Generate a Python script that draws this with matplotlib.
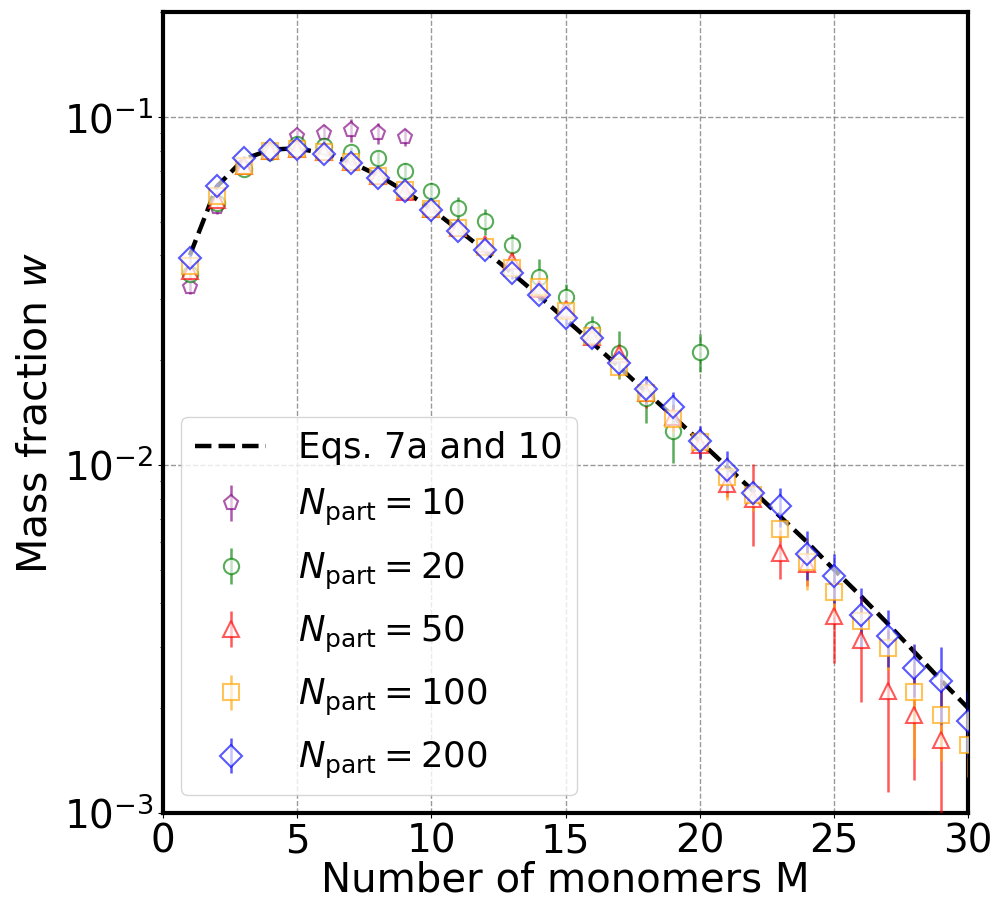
import numpy as np
import matplotlib
matplotlib.use("Agg")
import matplotlib.pyplot as plt

# Theory curve (Eqs. 7a and 10), read at integer M
M_theory = [1, 2, 3, 4, 5, 6, 7, 8, 9, 10, 11, 12, 13, 14, 15, 16, 17, 18, 19, 20,
            21, 22, 23, 24, 25, 26, 27, 28, 29, 30, 31]
w_theory = [0.0400, 0.0630, 0.0755, 0.0805, 0.0812, 0.0785, 0.0740, 0.0680, 0.0612, 0.0543,
            0.0474, 0.0412, 0.0356, 0.0306, 0.0262, 0.0224, 0.0191, 0.0162, 0.0138, 0.0117,
            0.0099, 0.0084, 0.0071, 0.0060, 0.0050, 0.0042, 0.0035, 0.0029, 0.0024, 0.0020, 0.0017]

# N_part = 10
M10 = [1, 2, 3, 4, 5, 6, 7, 8, 9]
w10 = [0.0324, 0.0550, 0.0716, 0.0800, 0.0878, 0.0897, 0.0918, 0.0897, 0.0874]
e10 = [0.0015, 0.0025, 0.003, 0.003, 0.004, 0.005, 0.007, 0.006, 0.005]

# N_part = 20
M20 = list(range(1, 21))
w20 = [0.0353, 0.0566, 0.0709, 0.0791, 0.0836, 0.0827, 0.0791, 0.0760, 0.0701, 0.0614,
       0.0548, 0.0501, 0.0427, 0.0346, 0.0303, 0.0245, 0.0210, 0.0156, 0.01252, 0.0211]
e20 = [0.0015, 0.002, 0.002, 0.002, 0.003, 0.003, 0.003, 0.004, 0.0035, 0.003,
       0.004, 0.0042, 0.0034, 0.0044, 0.0027, 0.0022, 0.0033, 0.0024, 0.0024, 0.0026]

# N_part = 50
M50 = list(range(1, 30))
w50 = [0.0360, 0.0575, 0.0720, 0.0800, 0.0810, 0.0790, 0.0740, 0.0675, 0.0610, 0.0545,
       0.0480, 0.0431, 0.0386, 0.0320, 0.0280, 0.0233, 0.0208, 0.0161, 0.0137, 0.0114,
       0.00879, 0.00796, 0.00559, 0.00520, 0.00369, 0.00315, 0.00224, 0.00191, 0.00162]
e50 = [0.0015, 0.002, 0.002, 0.002, 0.002, 0.002, 0.002, 0.002, 0.002, 0.002,
       0.002, 0.002, 0.002, 0.0018, 0.0016, 0.0015, 0.0015, 0.0015, 0.0012, 0.0010,
       0.0007, 0.0021, 0.0009, 0.0007, 0.0010, 0.00106, 0.00109, 0.00067, 0.0008]

# N_part = 100
M100 = list(range(1, 31))
w100 = [0.0373, 0.0594, 0.0720, 0.0800, 0.0810, 0.0790, 0.0740, 0.0675, 0.0615, 0.0545,
        0.0480, 0.0422, 0.0369, 0.0324, 0.0277, 0.0234, 0.0191, 0.0161, 0.01355, 0.0116,
        0.00925, 0.00817, 0.00655, 0.00526, 0.00431, 0.00357, 0.00298, 0.00223, 0.00191, 0.00157]
e100 = [0.0012, 0.0015, 0.0015, 0.0015, 0.0015, 0.0015, 0.0015, 0.0015, 0.0015, 0.0015,
        0.0015, 0.0015, 0.0015, 0.0014, 0.0014, 0.0013, 0.0013, 0.0012, 0.0012, 0.0011,
        0.0013, 0.0008, 0.0005, 0.0009, 0.0006, 0.0005, 0.0004, 0.0008, 0.0005, 0.0003]

# N_part = 200
M200 = list(range(1, 31))
w200 = [0.0393, 0.0632, 0.0762, 0.0804, 0.0809, 0.0782, 0.0739, 0.0668, 0.0611, 0.0541,
        0.0471, 0.0415, 0.0355, 0.0308, 0.0264, 0.0231, 0.0196, 0.0165, 0.01466, 0.0117,
        0.00966, 0.00831, 0.00761, 0.00556, 0.00479, 0.00371, 0.00322, 0.00261, 0.00240, 0.00184]
e200 = [0.0010, 0.0012, 0.0012, 0.0012, 0.0012, 0.0012, 0.0012, 0.0012, 0.0012, 0.0012,
        0.0012, 0.0012, 0.0012, 0.0012, 0.0012, 0.0014, 0.0015, 0.0015, 0.0015, 0.0012,
        0.0013, 0.0006, 0.0010, 0.0009, 0.00077, 0.00072, 0.0006, 0.00045, 0.0006, 0.0004]

series = [
    (M10, w10, e10, "p", "purple", r"$N_{\rm part} = 10$"),
    (M20, w20, e20, "o", "green", r"$N_{\rm part} = 20$"),
    (M50, w50, e50, "^", "red", r"$N_{\rm part} = 50$"),
    (M100, w100, e100, "s", "orange", r"$N_{\rm part} = 100$"),
    (M200, w200, e200, "D", "blue", r"$N_{\rm part} = 200$"),
]

plt.rcParams["font.size"] = 28
plt.rcParams["mathtext.fontset"] = "dejavusans"

fig = plt.figure(figsize=(9.94, 9.05), dpi=100)
ax = fig.add_axes([0.164, 0.1017, 0.81, 0.885])

ax.plot(M_theory, w_theory, "--", color="black", lw=3.2, label="Eqs. 7a and 10", zorder=2)

for M, w, e, mk, col, lab in series:
    ax.errorbar(M, w, yerr=e, fmt=mk, color=col, mfc="white", mec=col, ms=11,
                mew=1.5, elinewidth=1.8, capsize=0, alpha=0.65, label=lab, zorder=3)

ax.set_yscale("log")
ax.set_xlim(0, 30)
ax.set_ylim(1e-3, 0.2)
ax.set_xticks([0, 5, 10, 15, 20, 25, 30])
ax.grid(True, which="major", ls="--", color="gray", lw=1.0, alpha=0.8)
for s in ax.spines.values():
    s.set_linewidth(3)
ax.tick_params(which="both", direction="out", labelsize=28)
ax.set_xlabel("Number of monomers M", fontsize=29, labelpad=0)
ax.set_ylabel(r"Mass fraction $w$", fontsize=29.5, labelpad=6)
ax.legend(loc="lower left", fontsize=25.6, handletextpad=0.9, labelspacing=0.62)

fig.savefig("out.png", dpi=100)
